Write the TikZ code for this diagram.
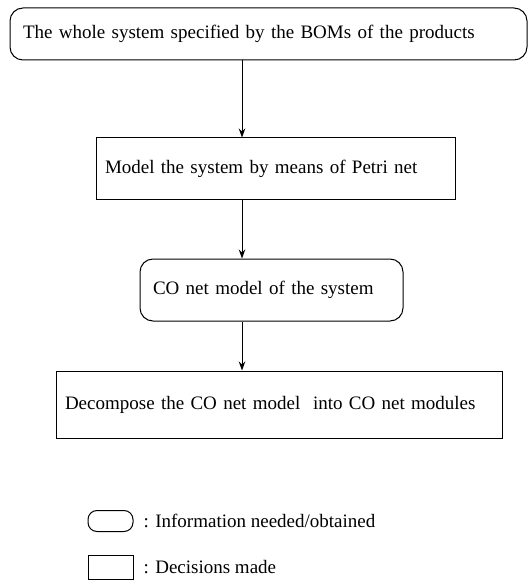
\documentclass[tikz,border=0pt]{standalone}
\usepackage{fontspec}
\setmainfont{Liberation Serif}
\usepackage{tikz}
\usetikzlibrary{arrows.meta,positioning}
\newcommand{\flowsize}{\fontsize{19pt}{22pt}\selectfont}
\tikzset{
  >={Stealth[length=9pt,width=6.5pt]},
  finfo/.style={rounded corners=13pt, draw=black, line width=1pt,
                align=left, inner xsep=13pt, inner ysep=0pt, font=\flowsize},
  fdec/.style={draw=black, line width=1pt,
               align=left, inner xsep=9pt, inner ysep=0pt, font=\flowsize},
  flbl/.style={inner sep=0pt, font=\flowsize, anchor=west},
  farrow/.style={->, line width=1pt},
}

\begin{document}
\begin{tikzpicture}[x=1pt,y=-1pt]
  \useasboundingbox (0,0) rectangle (528,588);

  % --- flow ---
  \node[finfo, text width=491pt, minimum height=52pt] (whole) at (268.5,34)
    {The whole system specified by the BOMs of the products};
  \node[fdec, text width=341pt, minimum height=61pt] (model) at (275.5,168.5)
    {Model the system by means of Petri net};
  \node[finfo, text width=237pt, minimum height=62pt] (conet) at (271.5,290)
    {CO net model of the system};
  \node[fdec, text width=428pt, minimum height=67pt] (decomp) at (279,404.5)
    {Decompose the CO net model \ into CO net modules};

  \coordinate (axis) at (242,0);
  \draw[farrow] (whole.south -| axis) -- (model.north -| axis);
  \draw[farrow] (model.south -| axis) -- (conet.north -| axis);
  \draw[farrow] (conet.south -| axis) -- (decomp.north -| axis);

  % --- legend ---
  \node[finfo, minimum width=45pt, minimum height=21pt, rounded corners=9pt,
        inner sep=0pt] (keyinfo) at (110.5,521) {};
  \node[flbl, right=10pt of keyinfo] (txtinfo) {: Information needed/obtained};
  \node[fdec, minimum width=45pt, minimum height=24pt, inner sep=0pt]
    (keydec) at (110.5,567) {};
  \node[flbl, right=10pt of keydec] (txtdec) {: Decisions made};

\end{tikzpicture}
\end{document}
